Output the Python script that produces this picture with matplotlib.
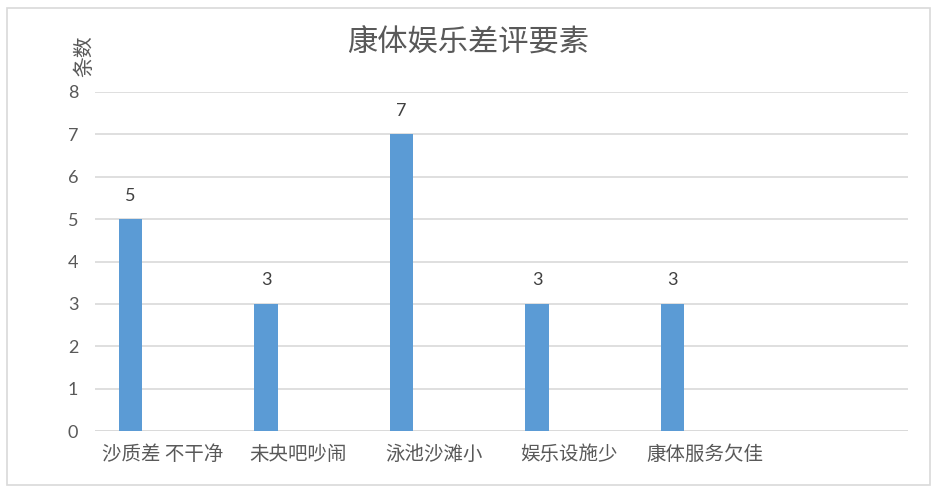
import numpy as np
import matplotlib
matplotlib.use("Agg")
import matplotlib.pyplot as plt
from matplotlib.patches import Rectangle

# data
categories = ["沙质差 不干净", "未央吧吵闹", "泳池沙滩小", "娱乐设施少", "康体服务欠佳"]
counts = [5, 3, 7, 3, 3]
n_slots = 6  # the chart leaves one empty slot on the right

plt.rcParams['font.family'] = ['Noto Sans CJK SC', 'DejaVu Sans']
text_c = "#595959"
grid_c = "#D9D9D9"
bar_c = "#5B9BD5"

W, H = 936, 492
fig = plt.figure(figsize=(W / 100, H / 100), dpi=100)
ax = fig.add_axes([95 / W, (H - 431) / H, (908 - 95) / W, (431 - 92) / H])

x = np.arange(len(categories))
bars = ax.bar(x - 0.238, counts, width=0.17, color=bar_c, zorder=3)

ax.set_xlim(-0.5, n_slots - 0.5)
ax.set_ylim(0, 8)
ax.set_yticks(range(0, 9))
ax.yaxis.grid(True, color=grid_c, lw=1.2, zorder=0)
for s in ax.spines.values():
    s.set_visible(False)
ax.axhline(0, color=grid_c, lw=1.2, zorder=1)

ax.set_xticks(x)
ax.set_xticklabels(categories, fontsize=14, color=text_c)
ax.tick_params(axis='x', length=0, pad=9)
ax.tick_params(axis='y', length=0, pad=12, labelsize=13, labelcolor=text_c)
for lab in ax.get_yticklabels():
    lab.set_family(['Lato', 'DejaVu Sans'])

for b, v in zip(bars, counts):
    ax.annotate(str(v), (b.get_x() + b.get_width() / 2, v), xytext=(0, 17),
                textcoords='offset points', ha='center', va='center',
                fontsize=13, color="#404040", family=['Lato', 'DejaVu Sans'])

fig.text(468 / W, 1 - 43 / H, "康体娱乐差评要素", ha='center', va='center',
         fontsize=21.8, color=text_c)
fig.text(84 / W, 1 - 56 / H, "条数", ha='center', va='center', rotation=90,
         fontsize=15, color=text_c)

fig.patches.append(Rectangle((7 / W, (H - 485) / H), 923 / W, 477 / H,
                             transform=fig.transFigure, fill=False,
                             edgecolor=grid_c, lw=1.2))

fig.savefig("out.png", dpi=100)
